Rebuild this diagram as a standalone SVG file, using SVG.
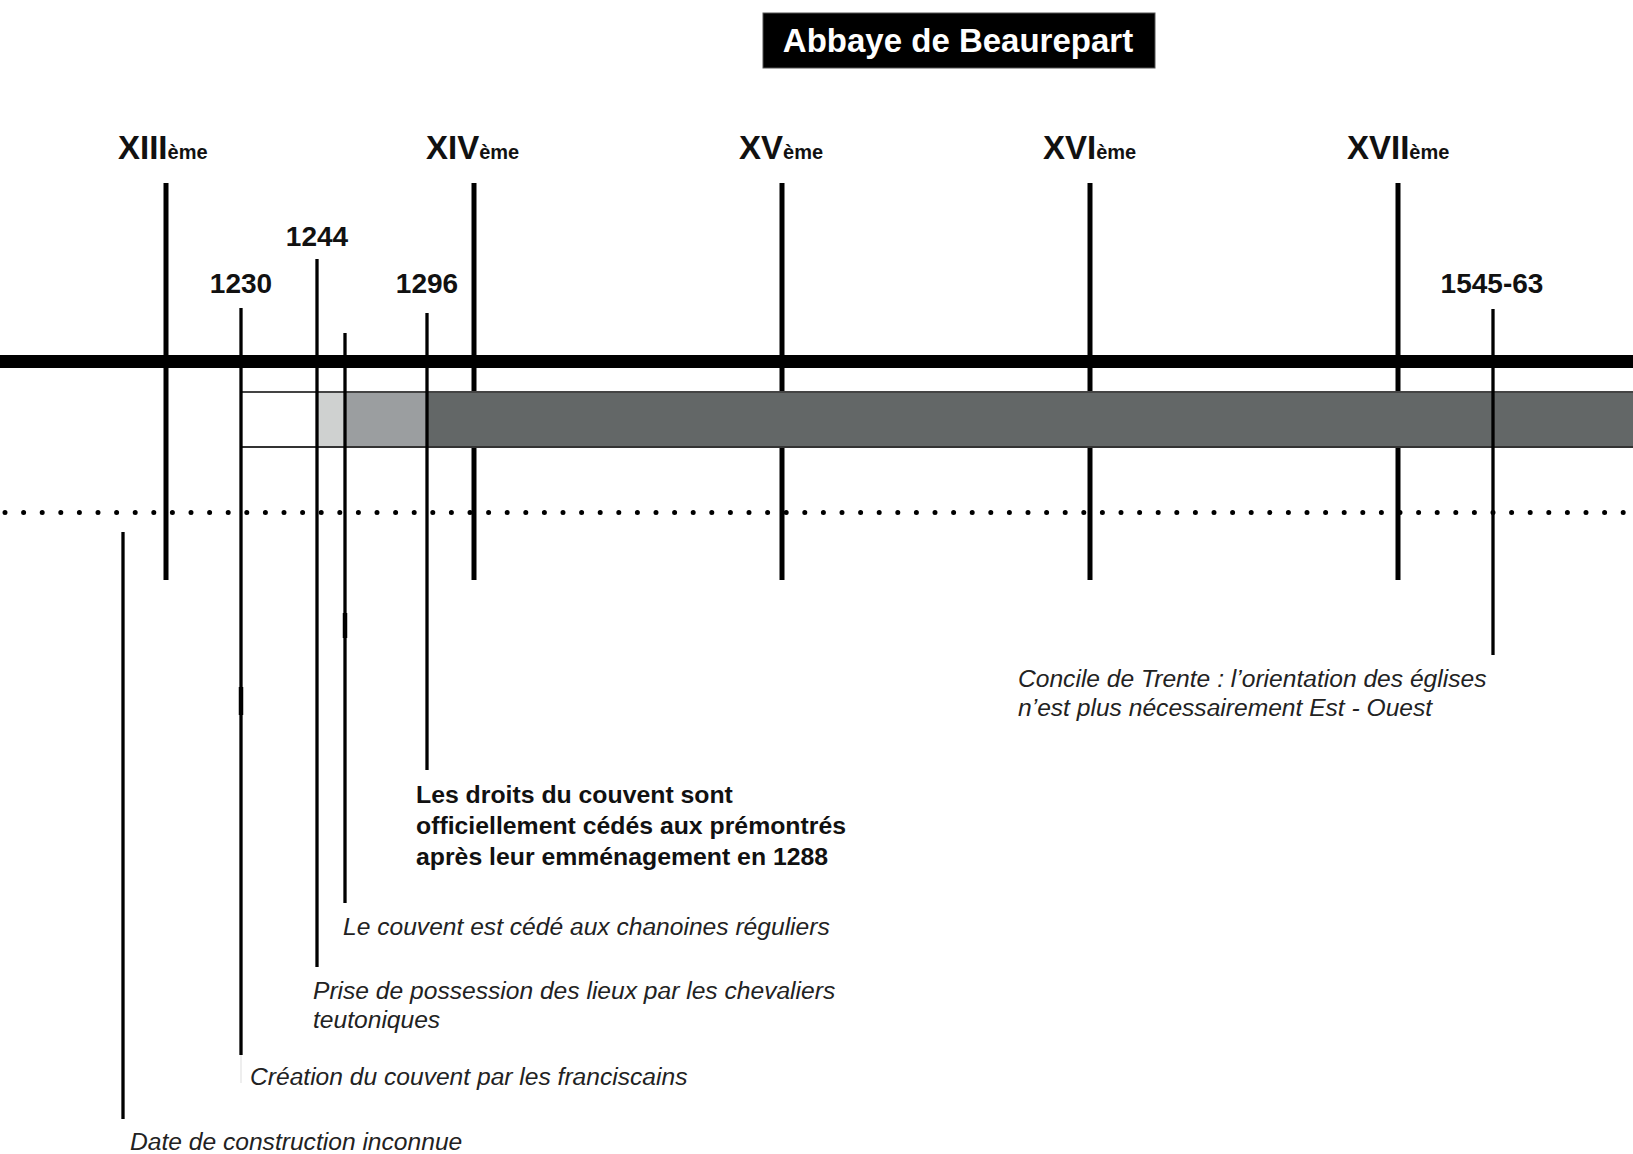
<svg xmlns="http://www.w3.org/2000/svg" width="1633" height="1154" viewBox="0 0 1633 1154">
<style>
.cent{font-family:"Liberation Sans",Arial,sans-serif;font-weight:bold;font-size:33px;fill:#111}
.sup{font-size:20px}
.yr{font-family:"Liberation Sans",Arial,sans-serif;font-weight:bold;font-size:28px;fill:#111;text-anchor:middle}
.it{font-family:"Liberation Sans",Arial,sans-serif;font-style:italic;font-size:24.6px;fill:#222}
.bd{font-family:"Liberation Sans",Arial,sans-serif;font-weight:bold;font-size:24.8px;fill:#111}
.cl{stroke:#000;stroke-width:5;fill:none}
.ev{stroke:#000;stroke-width:3.3;fill:none}
</style>
<rect width="1633" height="1154" fill="#fff"/>
<g id="title">
<rect x="763" y="13" width="392" height="55" fill="#000" stroke="#555" stroke-width="1"/>
<text x="958" y="52" text-anchor="middle" font-family="Liberation Sans, Arial, sans-serif" font-weight="bold" font-size="33" fill="#fff">Abbaye de Beaurepart</text>
</g>
<g id="centuries">
<line class="cl" x1="166" y1="183" x2="166" y2="580"/>
<line class="cl" x1="474" y1="183" x2="474" y2="580"/>
<line class="cl" x1="782" y1="183" x2="782" y2="580"/>
<line class="cl" x1="1090" y1="183" x2="1090" y2="580"/>
<line class="cl" x1="1398" y1="183" x2="1398" y2="580"/>
<text class="cent" x="118" y="159">XIII<tspan class="sup">ème</tspan></text>
<text class="cent" x="426" y="159">XIV<tspan class="sup">ème</tspan></text>
<text class="cent" x="739" y="159">XV<tspan class="sup">ème</tspan></text>
<text class="cent" x="1043" y="159">XVI<tspan class="sup">ème</tspan></text>
<text class="cent" x="1347" y="159">XVII<tspan class="sup">ème</tspan></text>
</g>
<g id="axis">
<rect x="0" y="355" width="1633" height="13" fill="#000"/>
<line x1="5" y1="512.5" x2="1633" y2="512.5" stroke="#000" stroke-width="5" stroke-linecap="round" stroke-dasharray="0 18.6"/>
</g>
<g id="band">
<rect x="242" y="392" width="75" height="55" fill="#fff"/>
<rect x="317" y="392" width="28" height="55" fill="#cfd1d0"/>
<rect x="345" y="392" width="82" height="55" fill="#9b9ea0"/>
<rect x="427" y="392" width="1206" height="55" fill="#636767"/>
<line x1="242" y1="392" x2="1633" y2="392" stroke="#444" stroke-width="2"/>
<line x1="242" y1="447" x2="1633" y2="447" stroke="#333" stroke-width="2"/>
</g>
<g id="connectors">
<line class="ev" x1="123" y1="532" x2="123" y2="1119"/>
<line class="ev" x1="241" y1="308" x2="241" y2="1055"/>
<line x1="241" y1="687" x2="241" y2="715" stroke="#000" stroke-width="4.5"/>
<line x1="241" y1="1055" x2="241" y2="1083" stroke="#ddd" stroke-width="1"/>
<line class="ev" x1="317" y1="259" x2="317" y2="967"/>
<line class="ev" x1="345" y1="333" x2="345" y2="903"/>
<line x1="345" y1="613" x2="345" y2="638" stroke="#000" stroke-width="4.5"/>
<line class="ev" x1="427" y1="313" x2="427" y2="770"/>
<line class="ev" x1="1493" y1="309" x2="1493" y2="655"/>
</g>
<g id="years">
<text class="yr" x="241" y="293">1230</text>
<text class="yr" x="317" y="246">1244</text>
<text class="yr" x="427" y="293">1296</text>
<text class="yr" x="1492" y="293">1545-63</text>
</g>
<g id="ev-trente">
<text class="it" x="1018" y="687">Concile de Trente : l’orientation des églises</text>
<text class="it" x="1018" y="716">n’est plus nécessairement Est - Ouest</text>
</g>
<g id="ev-1296">
<text class="bd" x="416" y="803">Les droits du couvent sont</text>
<text class="bd" x="416" y="834">officiellement cédés aux prémontrés</text>
<text class="bd" x="416" y="865">après leur emménagement en 1288</text>
</g>
<g id="ev-chanoines">
<text class="it" x="343" y="935">Le couvent est cédé aux chanoines réguliers</text>
</g>
<g id="ev-1244">
<text class="it" x="313" y="999">Prise de possession des lieux par les chevaliers</text>
<text class="it" x="313" y="1028">teutoniques</text>
</g>
<g id="ev-1230">
<text class="it" x="250" y="1085">Création du couvent par les franciscains</text>
</g>
<g id="ev-inconnue">
<text class="it" x="130" y="1150">Date de construction inconnue</text>
</g>
</svg>
